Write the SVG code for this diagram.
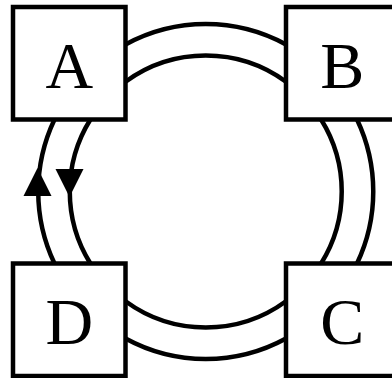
<svg xmlns="http://www.w3.org/2000/svg" width="392" height="378" viewBox="0 0 392 378">
  <style>
    .box { fill: #ffffff; stroke: #000000; stroke-width: 4.5; }
    .lbl { font-family: "Liberation Serif", "Times New Roman", serif; font-size: 66px; fill: #000000; text-anchor: middle; }
    .edge { fill: none; stroke: #000000; stroke-width: 4.5; }
    .head { fill: #000000; stroke: none; }
  </style>
  <defs>
    <polygon id="arrowhead" class="head" points="0,0 -14,28 14,28"/>
  </defs>
  <rect width="392" height="378" fill="#ffffff"/>
  <g id="connectors">
    <path id="edge-A-B-outer" class="edge" d="M125.5,44.5 A167.5,167.5 0 0 1 286,44.5"/>
    <path id="edge-A-B-inner" class="edge" d="M125.5,81.7 A136,136 0 0 1 286,81.7"/>
    <path id="edge-B-C-outer" class="edge" d="M357,119.5 A167.5,167.5 0 0 1 357,263.5"/>
    <path id="edge-B-C-inner" class="edge" d="M321.1,119.5 A136,136 0 0 1 321.1,263.5"/>
    <path id="edge-C-D-outer" class="edge" d="M286,338.5 A167.5,167.5 0 0 1 125.5,338.5"/>
    <path id="edge-C-D-inner" class="edge" d="M286,301.3 A136,136 0 0 1 125.5,301.3"/>
    <path id="edge-D-A-outer" class="edge" d="M54.5,263.5 A167.5,167.5 0 0 1 54.5,119.5"/>
    <path id="edge-A-D-inner" class="edge" d="M90.4,119.5 A136,136 0 0 0 90.4,263.5"/>
    <use href="#arrowhead" transform="translate(37.5,168)"/>
    <use href="#arrowhead" transform="translate(69.5,197) rotate(180)"/>
  </g>
  <g id="node-A">
    <rect class="box" x="13" y="7" width="112.5" height="112.5"/>
    <text class="lbl" x="69.25" y="87.5">A</text>
  </g>
  <g id="node-B">
    <rect class="box" x="286" y="7" width="112.5" height="112.5"/>
    <text class="lbl" x="342.25" y="87.5">B</text>
  </g>
  <g id="node-C">
    <rect class="box" x="286" y="263.5" width="112.5" height="112.5"/>
    <text class="lbl" x="342.25" y="343.8">C</text>
  </g>
  <g id="node-D">
    <rect class="box" x="13" y="263.5" width="112.5" height="112.5"/>
    <text class="lbl" x="69.25" y="343.8">D</text>
  </g>
</svg>
